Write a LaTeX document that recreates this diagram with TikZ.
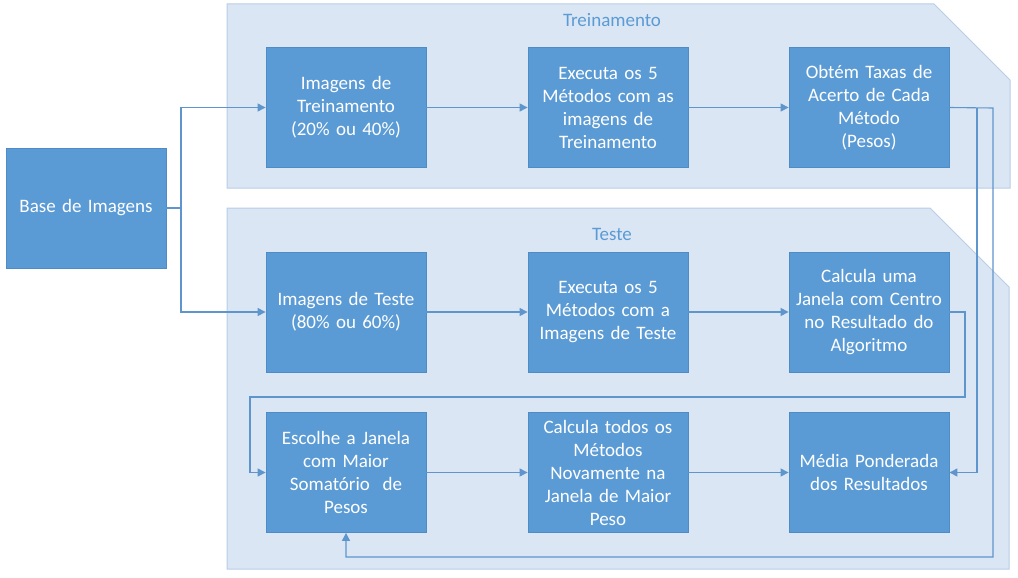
\documentclass[tikz,border=0pt]{standalone}
\usepackage{fontspec}
\setmainfont{Carlito}
\usetikzlibrary{arrows.meta}
\definecolor{boxblue}{HTML}{5B9BD5}
\definecolor{boxedge}{HTML}{4F8CC6}
\definecolor{panelfill}{HTML}{DAE6F3}
\definecolor{paneledge}{HTML}{B8CDE6}
\definecolor{linkblue}{HTML}{5E95CC}
\definecolor{titleblue}{HTML}{5B9BD5}
\begin{document}
\begin{tikzpicture}[x=1pt,y=-1pt,
  stepbox/.style={rectangle, draw=boxedge, line width=0.8pt, fill=boxblue,
    minimum width=160pt, minimum height=120pt, text width=156pt, align=center,
    text=white, font=\fontsize{19}{23}\selectfont, inner sep=0pt},
  panel/.style={draw=paneledge, line width=1pt, fill=panelfill},
  paneltitle/.style={text=titleblue, font=\fontsize{19}{23}\selectfont, inner sep=0pt},
  link/.style={draw=linkblue, line width=1.1pt, -{Triangle[length=8pt,width=8pt]}},
  plainlink/.style={draw=linkblue, line width=1.1pt}
]
\useasboundingbox (0,0) rectangle (1018,578);
\fill[white] (0,0) rectangle (1018,578);

% panels
\draw[panel] (227,4) -- (934,4) -- (1010,80) -- (1010,188) -- (227,188) -- cycle;
\draw[panel] (227,208) -- (930,208) -- (1009,287) -- (1009,569) -- (227,569) -- cycle;
\node[paneltitle] (ttrain) at (612,20) {Treinamento};
\node[paneltitle] (ttest) at (612,234) {Teste};

% boxes
\node[stepbox] (base) at (86,208) {Base de Imagens};
\node[stepbox] (tr1) at (346,107.5) {Imagens de\\Treinamento\\(20\% ou 40\%)};
\node[stepbox] (tr2) at (608,107.5) {Executa os 5\\Métodos com as\\imagens de\\Treinamento};
\node[stepbox] (tr3) at (869,107.5) {Obtém Taxas de\\Acerto de Cada\\Método\\(Pesos)};
\node[stepbox] (te1) at (346,312) {Imagens de Teste\\(80\% ou 60\%)};
\node[stepbox] (te2) at (608,312) {Executa os 5\\Métodos com a\\Imagens de Teste};
\node[stepbox] (te3) at (869,312) {Calcula uma\\Janela com Centro\\no Resultado do\\Algoritmo};
\node[stepbox] (te4) at (346,472.5) {Escolhe a Janela\\com Maior\\Somatório\ \ de\\Pesos};
\node[stepbox] (te5) at (608,472.5) {Calcula todos os\\Métodos\\Novamente na\\Janela de Maior\\Peso};
\node[stepbox] (te6) at (869,472.5) {Média Ponderada\\dos Resultados};

% helper coordinates
\coordinate (split) at (181,208);
\coordinate (midR) at (977,108);
\coordinate (outR) at (993,108);
\coordinate (loopB) at (993,557);
\coordinate (loopL) at (346,557);
\coordinate (retA) at (965,312);
\coordinate (retB) at (965,397);
\coordinate (retC) at (250,397);
\coordinate (retD) at (250,472.5);

% connectors
\draw[plainlink] (base.east) -- (split);
\draw[link] (split) |- (tr1.west);
\draw[link] (split) |- (te1.west);
\draw[link] (tr1) -- (tr2);
\draw[link] (tr2) -- (tr3);
\draw[link] (te1) -- (te2);
\draw[link] (te2) -- (te3);
\draw[link] (te4) -- (te5);
\draw[link] (te5) -- (te6);
\draw[link] (tr3.east) -- (outR) -- (loopB) -- (loopL) -- (te4.south);
\draw[link] (midR) |- (te6.east);
\draw[link] (te3.east) -- (retA) -- (retB) -- (retC) -- (retD) -- (te4.west);
\end{tikzpicture}
\end{document}
